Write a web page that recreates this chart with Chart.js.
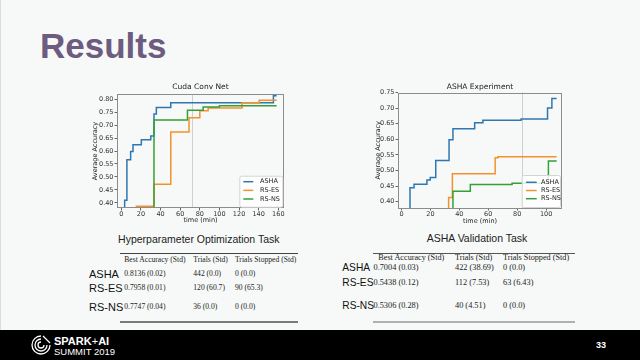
<!DOCTYPE html>
<html><head><meta charset="utf-8">
<script src="https://cdn.jsdelivr.net/npm/chart.js@4.4.1/dist/chart.umd.min.js"></script>
<style>
html,body{margin:0;padding:0;}
body{width:640px;height:360px;position:relative;overflow:hidden;background:#f6f9f7;font-family:"Liberation Sans",Arial,sans-serif;}
.a{position:absolute;white-space:nowrap;line-height:1;}
.sans{font-family:"Liberation Sans",Arial,sans-serif;}
.serif{font-family:"Liberation Serif","Times New Roman",serif;color:#222;}
canvas{position:absolute;}
</style>
</head><body>
<div class="a" style="left:0;top:0;width:1px;height:330px;background:#dcdcdc"></div>
<div class="a" style="left:40px;top:27.7px;font-size:35px;font-weight:bold;color:#6d5b80">Results</div>

<canvas id="c1" width="199" height="141" style="left:91px;top:83px"></canvas>
<canvas id="c2" width="194" height="142" style="left:374px;top:83px"></canvas>

<!-- table 1 -->
<div class="a sans" style="left:48.8px;width:300px;text-align:center;top:233.8px;font-size:10.5px;color:#222">Hyperparameter Optimization Task</div>
<div class="a" style="left:120px;top:252.8px;width:178px;height:1.3px;background:#444"></div>
<div class="a serif" style="left:124.3px;top:255.5px;font-size:7.6px">Best Accuracy (Std)</div>
<div class="a serif" style="left:193.3px;top:255.5px;font-size:7.6px">Trials (Std)</div>
<div class="a serif" style="left:235px;top:255.5px;font-size:7.6px">Trials Stopped (Std)</div>
<div class="a sans" style="left:89px;top:268.8px;font-size:11px;color:#111">ASHA</div>
<div class="a sans" style="left:89px;top:282.5px;font-size:11px;color:#111">RS-ES</div>
<div class="a sans" style="left:89px;top:301.5px;font-size:11px;color:#111">RS-NS</div>
<div class="a serif" style="left:124.3px;top:269.9px;font-size:7.6px">0.8136 (0.02)</div>
<div class="a serif" style="left:193.3px;top:269.9px;font-size:7.6px">442 (0.0)</div>
<div class="a serif" style="left:235px;top:269.9px;font-size:7.6px">0 (0.0)</div>
<div class="a serif" style="left:124.3px;top:283.9px;font-size:7.6px">0.7958 (0.01)</div>
<div class="a serif" style="left:193.3px;top:283.9px;font-size:7.6px">120 (60.7)</div>
<div class="a serif" style="left:235px;top:283.9px;font-size:7.6px">90 (65.3)</div>
<div class="a serif" style="left:124.3px;top:302.9px;font-size:7.6px">0.7747 (0.04)</div>
<div class="a serif" style="left:193.3px;top:302.9px;font-size:7.6px">36 (0.0)</div>
<div class="a serif" style="left:235px;top:302.9px;font-size:7.6px">0 (0.0)</div>
<div class="a" style="left:120px;top:320.5px;width:178px;height:2px;background:#7a7a7a"></div>

<!-- table 2 -->
<div class="a sans" style="left:327px;width:300px;text-align:center;top:232.8px;font-size:10.5px;color:#222">ASHA Validation Task</div>
<div class="a" style="left:373px;top:252.5px;width:202px;height:1.3px;background:#555"></div>
<div class="a serif" style="left:378.3px;top:254.2px;font-size:8.2px">Best Accuracy (Std)</div>
<div class="a serif" style="left:455px;top:254.2px;font-size:8.2px">Trials (Std)</div>
<div class="a serif" style="left:503px;top:254.2px;font-size:8.2px">Trials Stopped (Std)</div>
<div class="a sans" style="left:342.3px;top:263px;font-size:10.2px;color:#111">ASHA</div>
<div class="a sans" style="left:342.3px;top:278px;font-size:10.2px;color:#111">RS-ES</div>
<div class="a sans" style="left:342.3px;top:300.8px;font-size:10.2px;color:#111">RS-NS</div>
<div class="a serif" style="left:373.5px;top:264.2px;font-size:8.3px">0.7004 (0.03)</div>
<div class="a serif" style="left:455px;top:264.2px;font-size:8.3px">422 (38.69)</div>
<div class="a serif" style="left:503px;top:264.2px;font-size:8.3px">0 (0.0)</div>
<div class="a serif" style="left:373.5px;top:279.2px;font-size:8.3px">0.5438 (0.12)</div>
<div class="a serif" style="left:455px;top:279.2px;font-size:8.3px">112 (7.53)</div>
<div class="a serif" style="left:503px;top:279.2px;font-size:8.3px">63 (6.43)</div>
<div class="a serif" style="left:373.5px;top:301.9px;font-size:8.3px">0.5306 (0.28)</div>
<div class="a serif" style="left:455px;top:301.9px;font-size:8.3px">40 (4.51)</div>
<div class="a serif" style="left:503px;top:301.9px;font-size:8.3px">0 (0.0)</div>
<div class="a" style="left:373px;top:320.5px;width:202px;height:2px;background:#b0b0b0"></div>

<!-- footer -->
<div class="a" style="left:0;top:330px;width:640px;height:30px;background:#000"></div>
<svg class="a" style="left:30px;top:334px" width="22" height="22" viewBox="0 0 22 22" fill="none" stroke="#fff" stroke-width="1.3">
<path d="M11 2 A9 9 0 1 0 20 11"/><path d="M11 5 A6 6 0 1 0 17 11"/><path d="M11 8 A3 3 0 1 0 14 11"/><path d="M13 2 L20 9"/>
</svg>
<div class="a sans" style="left:54px;top:335.5px;font-size:11px;font-weight:bold;color:#fff">SPARK<span style="font-weight:normal">+</span>AI</div>
<div class="a sans" style="left:54px;top:346.8px;font-size:9.5px;color:#fff">SUMMIT 2019</div>
<div class="a sans" style="left:596px;top:340.5px;font-size:9px;font-weight:bold;color:#fff">33</div>

<script>
// ---- data ----
const seriesNames = ['ASHA', 'RS-ES', 'RS-NS'];
const seriesColors = ['#2f77b2', '#f5912d', '#35a035'];

const chart1Title = 'Cuda Conv Net';
const chart1XTicks = [0, 20, 40, 60, 80, 100, 120, 140, 160];
const chart1YTicks = [0.40, 0.45, 0.50, 0.55, 0.60, 0.65, 0.70, 0.75, 0.80];
const chart1XRange = [-4.4, 165.8];
const chart1YRange = [0.38, 0.82];
const chart1Marker = [72];
const c1AshaX = [3.4, 3.4, 5.7, 9.5, 11.9, 20.4, 30, 33.3, 35.7, 50.4, 155, 158.3];
const c1AshaY = [0.30, 0.41, 0.566, 0.598, 0.624, 0.643, 0.658, 0.743, 0.768, 0.786, 0.8136, 0.8136];
const c1RsesX = [14.6, 33.3, 50.4, 69, 80, 88.5, 123, 140.5, 158.3];
const c1RsesY = [0.387, 0.472, 0.673, 0.728, 0.755, 0.766, 0.786, 0.7958, 0.7958];
const c1RsnsX = [33.3, 33.3, 67.4, 83.4, 100, 158.3];
const c1RsnsY = [0.30, 0.72, 0.757, 0.770, 0.7747, 0.7747];

const chart2Title = 'ASHA Experiment';
const chart2XTicks = [0, 20, 40, 60, 80, 100];
const chart2YTicks = [0.40, 0.45, 0.50, 0.55, 0.60, 0.65, 0.70, 0.75];
const chart2XRange = [-2.4, 111];
const chart2YRange = [0.38, 0.75];
const chart2Marker = [83.4];
const c2AshaX = [5.9, 5.9, 8.7, 17.6, 19.9, 23.7, 32.9, 35.6, 50.6, 56.3, 82.7, 101, 104, 107.3];
const c2AshaY = [0.30, 0.445, 0.456, 0.470, 0.478, 0.532, 0.599, 0.634, 0.653, 0.661, 0.665, 0.7004, 0.731, 0.731];
const c2RsesX = [32.6, 32.6, 35.2, 64.8, 66.7, 107.3];
const c2RsesY = [0.30, 0.414, 0.49, 0.541, 0.5438, 0.5438];
const c2RsnsX = [35.6, 35.6, 47.6, 76.5, 101.6, 107.3];
const c2RsnsY = [0.30, 0.434, 0.455, 0.459, 0.5306, 0.5306];

const FONT = 'DejaVu Sans';

function ds(i, xs, ys) {
  return {
    label: seriesNames[i],
    data: xs.map((x, k) => ({x: x, y: ys[k]})),
    borderColor: seriesColors[i], backgroundColor: seriesColors[i],
    borderWidth: 1.5, pointRadius: 0, stepped: 'before', fill: false,
    order: 3 - i
  };
}

const decor = {
  id: 'decor',
  beforeDatasetsDraw(chart, args, o) {
    const {ctx, chartArea: a, scales} = chart;
    ctx.save();
    ctx.strokeStyle = '#cfcfcf'; ctx.lineWidth = 1;
    (o.marker || []).forEach(v => {
      const px = Math.round(scales.x.getPixelForValue(v)) + 0.5;
      ctx.beginPath(); ctx.moveTo(px, a.top); ctx.lineTo(px, a.bottom); ctx.stroke();
    });
    ctx.restore();
  },
  afterDatasetsDraw(chart, args, o) {
    const {ctx, chartArea: a} = chart;
    ctx.save();
    ctx.strokeStyle = '#8c8c8c'; ctx.lineWidth = 1;
    ctx.strokeRect(Math.round(a.left) + 0.5, Math.round(a.top) + 0.5,
      Math.round(a.right - a.left) - 1, Math.round(a.bottom - a.top) - 1);
    const L = o.legend;
    const bx = a.right - L.insetR - L.w, by = a.bottom - L.insetB - L.h;
    ctx.fillStyle = 'rgba(255,255,255,0.85)';
    ctx.strokeStyle = '#d4d4d4';
    ctx.beginPath();
    ctx.roundRect(bx + 0.5, by + 0.5, L.w - 1, L.h - 1, 2);
    ctx.fill(); ctx.stroke();
    ctx.font = L.fs + 'px "' + FONT + '"';
    ctx.textBaseline = 'middle';
    chart.data.datasets.forEach((d, i) => {
      const y = by + L.first + L.step * i;
      ctx.strokeStyle = d.borderColor; ctx.lineWidth = 1.5;
      ctx.beginPath(); ctx.moveTo(bx + L.l0, y); ctx.lineTo(bx + L.l1, y); ctx.stroke();
      ctx.fillStyle = '#222';
      ctx.fillText(d.label, bx + L.tx, y);
    });
    ctx.restore();
  }
};

function makeChart(id, title, sets, xr, yr, xt, yt, marker, yw, xh, titlePad, legend) {
  return new Chart(document.getElementById(id), {
    type: 'line',
    data: {datasets: sets},
    plugins: [decor],
    options: {
      responsive: false, animation: false, devicePixelRatio: 1,
      layout: {padding: {top: 0, right: 6, bottom: 0, left: 0}},
      plugins: {
        legend: {display: false}, tooltip: {enabled: false},
        title: {display: true, text: title, color: '#222', fullSize: false,
          font: {family: FONT, size: 7.5, weight: 'normal'}, padding: {top: 0, bottom: titlePad}},
        decor: {marker: marker, legend: legend}
      },
      scales: {
        x: {
          type: 'linear', min: xr[0], max: xr[1],
          afterBuildTicks: s => { s.ticks = xt.map(v => ({value: v})); },
          afterFit: s => { s.height = xh; },
          grid: {drawOnChartArea: false, drawTicks: true, tickLength: 2.5, color: '#666'},
          border: {display: false},
          ticks: {font: {family: FONT, size: 6.5}, color: '#333', padding: 0, maxRotation: 0, autoSkip: false,
            callback: v => String(v)},
          title: {display: true, text: 'time (min)', color: '#222', font: {family: FONT, size: 6.5}, padding: {top: 0, bottom: 0}}
        },
        y: {
          type: 'linear', min: yr[0], max: yr[1],
          afterBuildTicks: s => { s.ticks = yt.map(v => ({value: v})); },
          afterFit: s => { s.width = yw; },
          grid: {drawOnChartArea: false, drawTicks: true, tickLength: 2.5, color: '#666'},
          border: {display: false},
          ticks: {font: {family: FONT, size: 6.5}, color: '#333', padding: 1, autoSkip: false,
            callback: v => Number(v).toFixed(2)},
          title: {display: true, text: 'Average Accuracy', color: '#222', font: {family: FONT, size: 6.5}, padding: {top: 0, bottom: 0}}
        }
      }
    }
  });
}

makeChart('c1', chart1Title,
  [ds(0, c1AshaX, c1AshaY), ds(1, c1RsesX, c1RsesY), ds(2, c1RsnsX, c1RsnsY)],
  chart1XRange, chart1YRange, chart1XTicks, chart1YTicks, chart1Marker, 26, 16, 2,
  {w: 44, h: 32, insetR: 0.7, insetB: 0.3, first: 6, step: 8.65, l0: 4, l1: 14, tx: 20.7, fs: 6.5});

makeChart('c2', chart2Title,
  [ds(0, c2AshaX, c2AshaY), ds(1, c2RsesX, c2RsesY), ds(2, c2RsnsX, c2RsnsY)],
  chart2XRange, chart2YRange, chart2XTicks, chart2YTicks, chart2Marker, 24, 17, 0.5,
  {w: 39.3, h: 33, insetR: 1, insetB: 0, first: 7.3, step: 8.2, l0: 4.3, l1: 15, tx: 19.3, fs: 6.5});
</script>
</body></html>
